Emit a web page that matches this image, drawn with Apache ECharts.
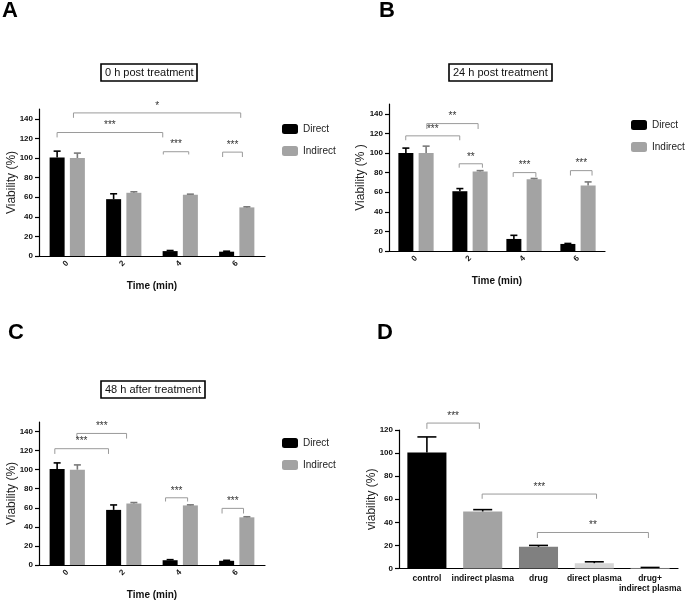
<!DOCTYPE html>
<html><head><meta charset="utf-8">
<script src="https://cdn.jsdelivr.net/npm/echarts@6/dist/echarts.min.js"></script>
<style>html,body{margin:0;padding:0;background:#fff}#c{width:685px;height:601px}</style>
</head><body><div id="c"></div>
<script>
// ---------- data ----------
const timeCats = ['0', '2', '4', '6'];
const tickVals = [0, 20, 40, 60, 80, 100, 120, 140];
const tickValsD = [0, 20, 40, 60, 80, 100, 120];

const aDirect = [100.5, 58, 5, 4.4];
const aDirectErr = [6.5, 5.5, 0.6, 0.5];
const aIndirect = [100, 64.5, 62.5, 49.6];
const aIndirectErr = [5, 1, 0.6, 0.6];

const bDirect = [100, 61, 12.3, 7.2];
const bDirectErr = [5, 2.7, 3.7, 0.5];
const bIndirect = [100, 81, 73.2, 66.8];
const bIndirectErr = [7, 1, 0.8, 3.7];

const cDirect = [100.6, 57.8, 5, 4.4];
const cDirectErr = [6.5, 5.2, 0.6, 0.5];
const cIndirect = [100, 64.5, 62.5, 50];
const cIndirectErr = [5, 1, 0.6, 0.6];

const dCats = ['control', 'indirect plasma', 'drug', 'direct plasma', 'drug+\nindirect plasma'];
const dValues = [100.5, 49.4, 18.8, 4.6, 0.6];
const dErr = [13.5, 1.6, 1.2, 1.2, 0.3];
const dColors = ['#000000', '#a3a3a3', '#808080', '#d6d6d6', '#eeeeee'];

// significance brackets: [x start, x end (category units), bracket level, leg end]
const aBrackets = [[0.11, 3.07, 146, 141], [-0.18, 1.69, 126, 121], [1.70, 2.15, 106.4, 103.6], [2.75, 3.10, 106, 101]];
const aStars = ['*', '***', '***', '***'];
const bBrackets = [[0.20, 1.15, 130, 124.5], [-0.19, 0.81, 117.5, 113], [0.80, 1.23, 89, 85], [1.80, 2.22, 80, 75.6], [2.86, 3.26, 82, 77]];
const bStars = ['**', '***', '**', '***', '***'];
const cBrackets = [[0.17, 1.05, 138, 132.6], [-0.22, 0.73, 122, 116.5], [1.74, 2.13, 70.5, 66.6], [2.74, 3.12, 59.4, 54]];
const cStars = ['***', '***', '***', '***'];
const dBrackets = [[0.0, 0.94, 126, 121], [0.99, 3.04, 64.5, 60.4], [1.98, 3.97, 31.2, 26.4]];
const dStars = ['***', '***', '**'];

// ---------- styling ----------
const FONT = 'Liberation Sans, Arial, sans-serif';
const DIRECT_C = '#000000', INDIRECT_C = '#a3a3a3', INDIRECT_ERR_C = '#7a7a7a';
const BAR_W = 15, BAR_GAP = 0.35;
const PAIR_OFF = BAR_W * (1 + BAR_GAP) / 2;

const grids = [
  {left: 39, top: 109, width: 226, height: 147},
  {left: 389, top: 104, width: 216, height: 147},
  {left: 39, top: 422, width: 226, height: 147},
  {left: 399, top: 430, width: 279, height: 138.5}
];

function catAxis(gi, cats, opts) {
  return Object.assign({
    type: 'category', gridIndex: gi, data: cats,
    axisLine: {onZero: false, lineStyle: {color: '#000', width: 1.2}},
    axisTick: {alignWithLabel: true, length: 4, lineStyle: {color: '#000', width: 1.2}},
    axisLabel: {color: '#111', fontFamily: FONT, fontWeight: 'bold', fontSize: 8, rotate: 45, margin: 6, interval: 0},
    name: 'Time (min)', nameLocation: 'middle', nameGap: 25, nameMoveOverlap: false,
    nameTextStyle: {color: '#111', fontFamily: FONT, fontWeight: 'bold', fontSize: 10}
  }, opts || {});
}
function valXAxis(gi, n) {
  return {type: 'value', gridIndex: gi, min: -0.5, max: n - 0.5, show: false};
}
function valYAxis(gi, max, ticks, name, nameGap) {
  return {
    type: 'value', gridIndex: gi, min: 0, max: max,
    axisLine: {show: true, onZero: false, lineStyle: {color: '#000', width: 1.2}},
    axisTick: {show: true, length: 4, lineStyle: {color: '#000', width: 1.2}, customValues: ticks},
    axisLabel: {color: '#111', fontFamily: FONT, fontWeight: 'bold', fontSize: 8, margin: 6, customValues: ticks},
    splitLine: {show: false},
    name: name, nameLocation: 'middle', nameGap: nameGap, nameRotate: 90, nameMoveOverlap: false,
    nameTextStyle: {color: '#222', fontFamily: FONT, fontSize: 12}
  };
}

function errSeries(xi, yi, vals, errs, off, color, capHalf) {
  return {
    type: 'custom', xAxisIndex: xi, yAxisIndex: yi, silent: true, z: 5, clip: false,
    data: vals.map((v, i) => [i, v, errs[i]]),
    renderItem: function (params, api) {
      const c = api.value(0), v = api.value(1), e = api.value(2);
      const p0 = api.coord([c, v]), p1 = api.coord([c, v + e]);
      const x = p0[0] + off;
      const st = {stroke: color, lineWidth: 1.6};
      return {type: 'group', children: [
        {type: 'line', shape: {x1: x, y1: p0[1], x2: x, y2: p1[1]}, style: st},
        {type: 'line', shape: {x1: x - capHalf, y1: p1[1], x2: x + capHalf, y2: p1[1]}, style: st}
      ]};
    }
  };
}

function bracketSeries(xi, yi, brackets, stars) {
  return {
    type: 'custom', xAxisIndex: xi, yAxisIndex: yi, silent: true, z: 6, clip: false,
    data: brackets,
    renderItem: function (params, api) {
      const x1 = api.value(0), x2 = api.value(1), y = api.value(2), yl = api.value(3);
      const a = api.coord([x1, yl]), b = api.coord([x1, y]), c = api.coord([x2, y]), d = api.coord([x2, yl]);
      return {type: 'group', children: [
        {type: 'polyline', shape: {points: [a, b, c, d]}, style: {stroke: '#9a9a9a', lineWidth: 1, fill: null}},
        {type: 'text', x: (b[0] + c[0]) / 2, y: b[1] - 2,
         style: {text: stars[params.dataIndex], fill: '#333', fontSize: 10, fontFamily: FONT, align: 'center', verticalAlign: 'bottom'}}
      ]};
    }
  };
}

function barPair(xi, yi, dVals, iVals) {
  return [
    {type: 'bar', name: 'Direct', xAxisIndex: xi, yAxisIndex: yi, data: dVals, barWidth: BAR_W, barGap: (BAR_GAP * 100) + '%',
     itemStyle: {color: DIRECT_C}, silent: true},
    {type: 'bar', name: 'Indirect', xAxisIndex: xi, yAxisIndex: yi, data: iVals, barWidth: BAR_W, barGap: (BAR_GAP * 100) + '%',
     itemStyle: {color: INDIRECT_C}, silent: true}
  ];
}

function panelTitle(text, left, top) {
  return {text: text, left: left, top: top, padding: 0,
    textStyle: {fontFamily: FONT, fontWeight: 'bold', fontSize: 22, color: '#000'}};
}
function boxTitle(text, left, top) {
  return {text: text, left: left, top: top, padding: [3, 4, 3, 4], borderColor: '#000', borderWidth: 1.6,
    textStyle: {fontFamily: FONT, fontWeight: 'normal', fontSize: 11, color: '#111'}};
}
function legendAt(left, top) {
  return {data: ['Direct', 'Indirect'], left: left, top: top, orient: 'vertical', icon: 'roundRect',
    itemWidth: 16, itemHeight: 10, itemGap: 12, selectedMode: false, padding: 0,
    textStyle: {fontFamily: FONT, fontSize: 10, color: '#222', lineHeight: 10}};
}

const option = {
  animation: false,
  backgroundColor: '#fff',
  title: [
    panelTitle('A', 2, 0), panelTitle('B', 379, 0), panelTitle('C', 8, 322), panelTitle('D', 377, 322),
    boxTitle('0 h post treatment', 101, 64), boxTitle('24 h post treatment', 449, 64), boxTitle('48 h after treatment', 101, 381)
  ],
  legend: [legendAt(282, 124), legendAt(631, 120), legendAt(282, 438)],
  grid: grids,
  xAxis: [
    catAxis(0, timeCats), valXAxis(0, 4),
    catAxis(1, timeCats), valXAxis(1, 4),
    catAxis(2, timeCats), valXAxis(2, 4),
    catAxis(3, dCats, {axisLabel: {color: '#111', fontFamily: FONT, fontWeight: 'bold', fontSize: 8.5, rotate: 0, margin: 5, interval: 0, lineHeight: 10}, name: ''}),
    valXAxis(3, 5)
  ],
  yAxis: [
    valYAxis(0, 150, tickVals, 'Viability (%)', 21),
    valYAxis(1, 150, tickVals, 'Viability (% )', 22),
    valYAxis(2, 150, tickVals, 'Viability (%)', 21),
    valYAxis(3, 120, tickValsD, 'viability (%)', 21)
  ],
  series: [].concat(
    barPair(0, 0, aDirect, aIndirect),
    [errSeries(0, 0, aDirect, aDirectErr, -PAIR_OFF, DIRECT_C, 3.5), errSeries(0, 0, aIndirect, aIndirectErr, PAIR_OFF, INDIRECT_ERR_C, 3.5),
     bracketSeries(1, 0, aBrackets, aStars)],
    barPair(2, 1, bDirect, bIndirect),
    [errSeries(2, 1, bDirect, bDirectErr, -PAIR_OFF, DIRECT_C, 3.5), errSeries(2, 1, bIndirect, bIndirectErr, PAIR_OFF, INDIRECT_ERR_C, 3.5),
     bracketSeries(3, 1, bBrackets, bStars)],
    barPair(4, 2, cDirect, cIndirect),
    [errSeries(4, 2, cDirect, cDirectErr, -PAIR_OFF, DIRECT_C, 3.5), errSeries(4, 2, cIndirect, cIndirectErr, PAIR_OFF, INDIRECT_ERR_C, 3.5),
     bracketSeries(5, 2, cBrackets, cStars)],
    [{type: 'bar', name: 'viability', xAxisIndex: 6, yAxisIndex: 3, barWidth: '70%', silent: true,
      data: dValues.map((v, i) => ({value: v, itemStyle: {color: dColors[i]}}))},
     errSeries(6, 3, dValues, dErr, 0, '#000', 9.5),
     bracketSeries(7, 3, dBrackets, dStars)]
  )
};

const chart = echarts.init(document.getElementById('c'), null, {renderer: 'canvas'});
chart.setOption(option);
</script>
</body></html>
